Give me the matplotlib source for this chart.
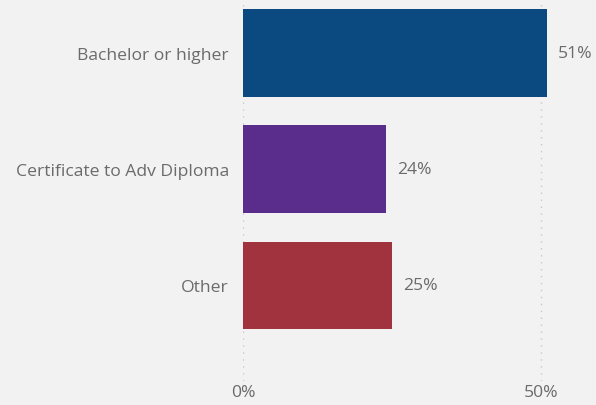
import matplotlib
matplotlib.use("Agg")
import matplotlib.pyplot as plt

categories = ["Bachelor or higher", "Certificate to Adv Diploma", "Other"]
values = [51, 24, 25]
colors = ["#0A4A80", "#5A2D8C", "#A0333D"]
x_ticks = [0, 50]
x_tick_labels = ["0%", "50%"]

bg = "#F2F2F2"
text_col = "#6B6B6B"
fs = 12.6

fig = plt.figure(figsize=(5.96, 4.06), dpi=100, facecolor=bg)
ax = fig.add_axes([243 / 596, 24 / 406, 353 / 596, 382 / 406], facecolor=bg)

ypos = list(range(len(categories)))
ax.barh(ypos, values, height=0.755, color=colors, zorder=3)

for y, v in zip(ypos, values):
    ax.text(v + 1.8, y, f"{v}%", va="center", ha="left",
            fontsize=fs, color=text_col, family="Open Sans")

ax.set_xlim(0, 59.2)
ax.set_ylim(2.82, -0.46)
ax.set_yticks(ypos)
ax.set_yticklabels(categories, fontsize=fs, color=text_col, family="Open Sans")
ax.set_xticks(x_ticks)
ax.set_xticklabels(x_tick_labels, fontsize=fs, color=text_col, family="Open Sans")
ax.tick_params(axis="both", length=0)
ax.tick_params(axis="y", pad=10)
ax.tick_params(axis="x", pad=2)

ax.grid(axis="x", color="#C8C8C8", linestyle=(0, (1, 4)), linewidth=1, zorder=0)
for s in ax.spines.values():
    s.set_visible(False)

fig.savefig("out.png", dpi=100, facecolor=bg)
